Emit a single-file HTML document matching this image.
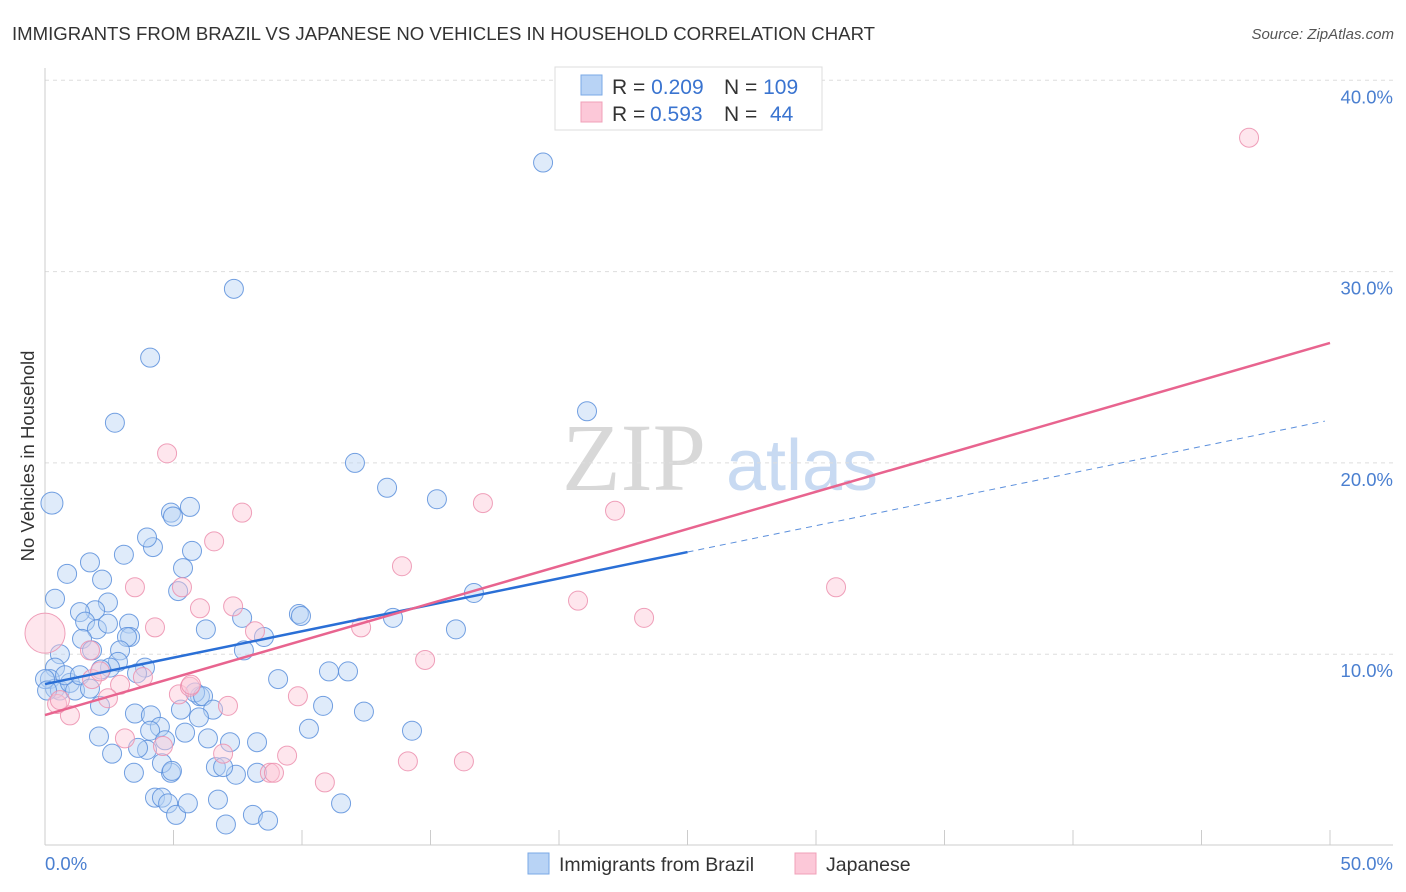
<!DOCTYPE html>
<html><head><meta charset="utf-8"><style>
body{margin:0;background:#fff;font-family:"Liberation Sans",sans-serif}
svg{display:block}
</style></head><body>
<svg width="1406" height="892" viewBox="0 0 1406 892" xmlns="http://www.w3.org/2000/svg">
<text x="12" y="40" font-size="18.6" fill="#333">IMMIGRANTS FROM BRAZIL VS JAPANESE NO VEHICLES IN HOUSEHOLD CORRELATION CHART</text>
<text x="1394" y="39" font-size="15" fill="#555" font-style="italic" text-anchor="end">Source: ZipAtlas.com</text>
<text transform="translate(34,456) rotate(-90)" font-size="18.5" fill="#333" text-anchor="middle">No Vehicles in Household</text>
<g>
<text x="634" y="490" font-size="96" font-family="Liberation Serif,serif" fill="#d8d8d8" text-anchor="middle">ZIP</text>
<text x="802" y="490" font-size="72" fill="#c8daf2" text-anchor="middle">atlas</text>
</g>
<g id="grid"></g>
<g id="axes"></g>
<g id="pts"></g>
<g id="lines"></g>
<g>
<rect x="555" y="67" width="267" height="63" fill="#fff" stroke="#ddd"/>
<rect x="581" y="75" width="21" height="20" fill="#b8d3f5" stroke="#7aa8e6"/>
<rect x="581" y="102" width="21" height="20" fill="#fcc8d8" stroke="#f0a0b8"/>
<text x="612" y="94" font-size="21" fill="#333">R = <tspan fill="#3a74d0">0.209</tspan><tspan x="724">N = </tspan><tspan fill="#3a74d0">109</tspan></text>
<text x="612" y="121" font-size="21" fill="#333">R = <tspan x="650" fill="#3a74d0">0.593</tspan><tspan x="724">N = </tspan><tspan x="770" fill="#3a74d0">44</tspan></text>
</g>
<g>
<rect x="528" y="853" width="21" height="21" fill="#b8d3f5" stroke="#7aa8e6"/>
<text x="559" y="871" font-size="19.5" fill="#333">Immigrants from Brazil</text>
<rect x="795" y="853" width="21" height="21" fill="#fcc8d8" stroke="#f0a0b8"/>
<text x="826" y="871" font-size="19.5" fill="#333">Japanese</text>
</g>
</svg>
<script>
const yTicks=[10,20,30,40];
const yTickLabels=["10.0%","20.0%","30.0%","40.0%"];
const xTickLabels=["0.0%","50.0%"];
const brazilX=[0.27,0.39,0.86,1.75,2.22,3.07,4.20,3.97,4.90,4.98,5.64,5.72,5.37,5.18,2.72,4.09,7.35,19.38,21.09,12.06,13.31,15.25,16.69,13.54,15.99,9.88,9.96,7.67,8.52,6.26,7.74,3.27,3.31,3.19,2.45,1.95,1.36,1.56,2.02,1.44,1.83,2.45,2.92,2.84,3.89,3.58,2.53,2.18,0.58,0.39,0.19,0.39,0.58,0.97,1.17,0.78,1.36,1.75,2.14,3.50,4.12,4.47,4.09,4.67,3.97,3.62,3.46,4.90,4.55,5.45,6.03,5.84,6.15,5.29,6.54,5.99,6.34,7.20,6.65,7.43,8.25,8.25,9.07,10.82,10.27,11.05,11.79,12.41,14.28,2.10,2.61,4.28,4.55,4.79,5.10,5.56,6.73,7.04,8.09,8.68,11.52,6.93,4.94,0.0,0.08];
const brazilY=[17.9,12.9,14.2,14.8,13.9,15.2,15.6,16.1,17.4,17.2,17.7,15.4,14.5,13.3,22.1,25.5,29.1,35.7,22.7,20.0,18.7,18.1,13.2,11.9,11.3,12.1,12.0,11.9,10.9,11.3,10.2,11.6,10.9,10.9,12.7,12.3,12.2,11.7,11.3,10.8,10.2,11.6,10.2,9.6,9.3,9.0,9.3,9.2,10.0,9.3,8.7,8.2,8.1,8.5,8.1,8.9,8.9,8.2,7.3,6.9,6.8,6.2,6.0,5.5,5.0,5.1,3.8,3.8,4.3,5.9,7.8,8.0,7.8,7.1,7.1,6.7,5.6,5.4,4.1,3.7,3.8,5.4,8.7,7.3,6.1,9.1,9.1,7.0,6.0,5.7,4.8,2.5,2.5,2.2,1.6,2.2,2.4,1.1,1.6,1.3,2.2,4.1,3.9,8.7,8.1];
const japanX=[0,46.85,4.75,7.67,17.04,22.18,13.89,20.74,23.31,30.78,6.58,3.50,5.33,6.03,7.32,4.28,8.17,12.30,14.79,1.83,2.92,3.81,5.21,5.64,7.12,9.84,2.45,0.97,0.47,3.11,4.59,6.93,9.42,8.75,8.91,10.89,14.12,16.30,5.68,1.75,0.58,2.14];
const japanY=[11.1,37.0,20.5,17.4,17.9,17.5,14.6,12.8,11.9,13.5,15.9,13.5,13.5,12.4,12.5,11.4,11.2,11.4,9.7,8.7,8.4,8.8,7.9,8.3,7.3,7.8,7.7,6.8,7.4,5.6,5.2,4.8,4.7,3.8,3.8,3.3,4.4,4.4,8.4,10.2,7.6,9.1];
const brazilTrend=[8.44,22.24];
const japanTrend=[6.82,26.27];
const NS='http://www.w3.org/2000/svg';
const X=v=>45+v/50*1285, Y=v=>845.5-v*19.13;
function mk(tag,at,parent){const e=document.createElementNS(NS,tag);for(const k in at)e.setAttribute(k,at[k]);document.getElementById(parent).appendChild(e);return e;}
yTicks.forEach((t,i)=>{
 const l=mk('line',{x1:45,x2:1393,y1:Y(t),y2:Y(t),stroke:'#ddd','stroke-dasharray':'4,4'},'grid');
 
 
 const tx=mk('text',{x:1393,y:Y(t)+23,'font-size':18.5,fill:'#4a7fd0','text-anchor':'end'},'axes');
 tx.textContent=yTickLabels[i];
 
 
});
let a=mk('line',{x1:45,x2:45,y1:68,y2:845,stroke:'#ccc'},'axes');


a=mk('line',{x1:45,x2:1393,y1:845,y2:845,stroke:'#ccc'},'axes');


for(let i=0;i<=10;i++){const t=mk('line',{x1:X(i*5),x2:X(i*5),y1:830,y2:845,stroke:'#ccc'},'axes');
 
 }
[[0,'start',45],[50,'end',1393]].forEach((d,i)=>{const t=mk('text',{x:d[2],y:870,'font-size':18.5,fill:'#4a7fd0','text-anchor':d[1]},'axes');t.textContent=xTickLabels[i];
 
 });
function pts(xs,ys,fill,stroke,name){xs.forEach((x,i)=>{const c=mk('circle',{cx:X(x),cy:Y(ys[i]),r:i===0?(name==='japanese-point'?20:11):9.5,fill:fill,'fill-opacity':0.45,stroke:stroke,'stroke-width':1,'stroke-opacity':0.85},'pts');
 
 });}
pts(brazilX,brazilY,'#b8d3f5','#5b8fdc','brazil-point');
pts(japanX,japanY,'#fcc8d8','#ec8fae','japanese-point');
const by=x=>brazilTrend[0]+(brazilTrend[1]-brazilTrend[0])*x/50;
let l=mk('line',{x1:X(0),y1:Y(by(0)),x2:X(25),y2:Y(by(25)),stroke:'#2a6fd6','stroke-width':2.5},'lines');


l=mk('line',{x1:X(25),y1:Y(by(25)),x2:X(49.8),y2:Y(by(49.8)),stroke:'#5b8fdc','stroke-width':1,'stroke-dasharray':'6,5'},'lines');


l=mk('line',{x1:X(0),y1:Y(japanTrend[0]),x2:X(50),y2:Y(japanTrend[1]),stroke:'#e8648f','stroke-width':2.5},'lines');


</script>
</body></html>
